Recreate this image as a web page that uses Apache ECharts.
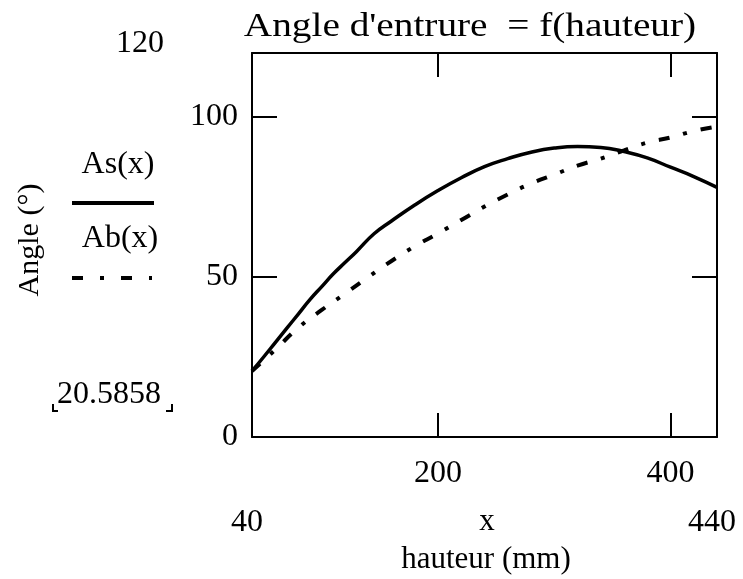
<!DOCTYPE html>
<html>
<head>
<meta charset="utf-8">
<script src="https://cdn.jsdelivr.net/npm/echarts@6/dist/echarts.min.js"></script>
<style>html,body{margin:0;padding:0;background:#fff;}#c{width:743px;height:579px;}</style>
</head>
<body>
<div id="c"></div>
<script>
// Data
const xAs = [40, 50, 60, 70, 80, 90, 100, 110, 120, 130, 145, 160, 180, 200, 220, 240, 260, 280, 300, 320, 340, 360, 380, 400, 420, 440];
const yAs = [20.6, 25, 29.5, 34, 38.5, 43, 47, 51, 54.5, 58, 63.5, 67.5, 72.5, 77, 81, 84.5, 87, 89, 90.3, 90.8, 90.5, 89.2, 87.2, 84.3, 81.4, 78];
const xAb = [40, 60, 80, 100, 120, 140, 160, 180, 200, 220, 240, 260, 280, 300, 320, 340, 360, 380, 400, 420, 440];
const yAb = [20.6, 27.3, 34.2, 39.7, 44.8, 50, 55, 59.6, 63.6, 67.8, 72, 75.8, 79.2, 82, 84.8, 87, 89.6, 92, 93.6, 95.6, 97];
const xTicks = [200, 400];
const yTicks = [0, 50, 100];
const xRange = [40, 440];
const yRange = [0, 120];
const yMinLabel = '20.5858';
const titleText = "Angle d'entrure  = f(hauteur)";
const seriesNames = ['As(x)', 'Ab(x)'];

const chart = echarts.init(document.getElementById('c'), null, {renderer: 'canvas'});
const serif = 'Liberation Serif';
const numFont = 'Liberation Serif';
const numSize = 32;
const dashPat = [11, 14, 4, 14];

function axisCommon(pos, showLabel, ticks, isX) {
  return {
    type: 'value',
    position: pos,
    min: isX ? xRange[0] : yRange[0],
    max: isX ? xRange[1] : yRange[1],
    axisLine: {show: true, onZero: false, lineStyle: {color: '#000', width: 2}},
    axisTick: {show: true, inside: true, length: isX ? 24 : 25, customValues: ticks, lineStyle: {color: '#000', width: 2}},
    axisLabel: {show: showLabel, customValues: ticks, color: '#000', fontFamily: numFont, fontSize: numSize, margin: isX ? 21 : 14},
    splitLine: {show: false}
  };
}

const option = {
  backgroundColor: '#fff',
  animation: false,
  grid: {left: 252, right: 26, top: 53, bottom: 142, containLabel: false},
  xAxis: [axisCommon('bottom', true, xTicks, true), axisCommon('top', false, xTicks, true)],
  yAxis: [axisCommon('left', true, yTicks, false), axisCommon('right', false, yTicks, false)],
  series: [
    {name: seriesNames[0], type: 'line', showSymbol: false, smooth: true,
     data: xAs.map((x, i) => [x, yAs[i]]),
     lineStyle: {color: '#000', width: 3.5}},
    {name: seriesNames[1], type: 'line', showSymbol: false, smooth: true,
     data: xAb.map((x, i) => [x, yAb[i]]),
     lineStyle: {color: '#000', width: 4, type: dashPat}}
  ],
  graphic: [
    {type: 'text', x: 470, y: 27, scaleX: 1.19, originX: 0, originY: 0, style: {text: titleText, fontFamily: serif, fontSize: 33, fill: '#000', align: 'center', verticalAlign: 'middle'}},
    {type: 'text', x: 140, y: 44, style: {text: String(yRange[1]), fontFamily: numFont, fontSize: numSize, fill: '#000', align: 'center', verticalAlign: 'middle'}},
    {type: 'text', x: 109, y: 395, style: {text: yMinLabel, fontFamily: numFont, fontSize: numSize, fill: '#000', align: 'center', verticalAlign: 'middle'}},
    {type: 'polyline', shape: {points: [[53, 404], [53, 411], [58, 411]]}, style: {stroke: '#000', lineWidth: 2, fill: null}},
    {type: 'polyline', shape: {points: [[166, 411], [172, 411], [172, 404]]}, style: {stroke: '#000', lineWidth: 2, fill: null}},
    {type: 'text', x: 247, y: 523, style: {text: String(xRange[0]), fontFamily: numFont, fontSize: numSize, fill: '#000', align: 'center', verticalAlign: 'middle'}},
    {type: 'text', x: 712, y: 523, style: {text: String(xRange[1]), fontFamily: numFont, fontSize: numSize, fill: '#000', align: 'center', verticalAlign: 'middle'}},
    {type: 'text', x: 487, y: 522, style: {text: 'x', fontFamily: serif, fontSize: 31, fill: '#000', align: 'center', verticalAlign: 'middle'}},
    {type: 'text', x: 486, y: 560, style: {text: 'hauteur (mm)', fontFamily: serif, fontSize: 31, fill: '#000', align: 'center', verticalAlign: 'middle'}},
    {type: 'text', x: 30, y: 240, rotation: Math.PI / 2, style: {text: 'Angle (°)', fontFamily: serif, fontSize: 30, fill: '#000', align: 'center', verticalAlign: 'middle'}},
    {type: 'text', x: 118, y: 165, style: {text: seriesNames[0], fontFamily: serif, fontSize: 32, fill: '#000', align: 'center', verticalAlign: 'middle'}},
    {type: 'line', shape: {x1: 72, y1: 203, x2: 154, y2: 203}, style: {stroke: '#000', lineWidth: 4}},
    {type: 'text', x: 120, y: 239, style: {text: seriesNames[1], fontFamily: serif, fontSize: 32, fill: '#000', align: 'center', verticalAlign: 'middle'}},
    {type: 'line', shape: {x1: 72, y1: 278, x2: 152, y2: 278}, style: {stroke: '#000', lineWidth: 4, lineDash: [11, 17, 4, 17]}}
  ]
};
chart.setOption(option);
</script>
</body>
</html>
